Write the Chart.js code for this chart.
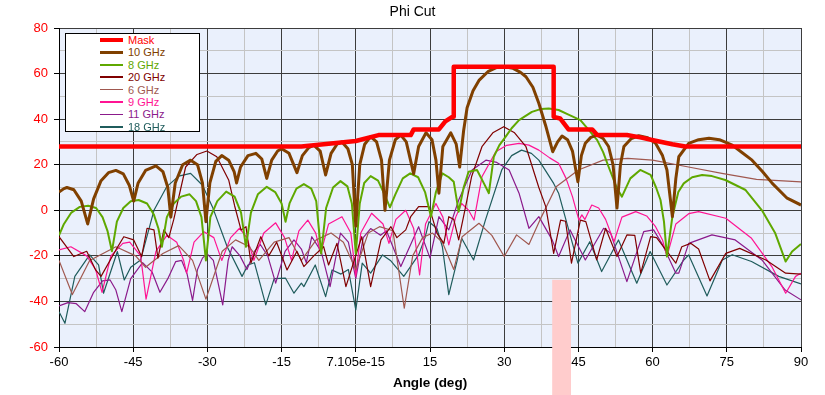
<!DOCTYPE html>
<html>
<head>
<meta charset="utf-8">
<title>Phi Cut</title>
<script src="https://cdn.jsdelivr.net/npm/chart.js@4.4.1/dist/chart.umd.min.js"></script>
<style>
  html, body { margin: 0; padding: 0; background: #fff; }
  #wrap { position: relative; width: 825px; height: 395px; }
  #legend {
    position: absolute; left: 65px; top: 33px; width: 135px; height: 99px;
    box-sizing: border-box; background: #fff; border: 1px solid #000;
    font: 11px 'Liberation Sans', Arial, sans-serif;
  }
  .row { position: absolute; left: 0; width: 100%; height: 12px; }
  .swatch { position: absolute; left: 34px; width: 23px; }
  .lbl { position: absolute; left: 62px; top: 0; line-height: 12px; white-space: nowrap; }
</style>
</head>
<body>
<div id="wrap">
  <canvas id="chart" width="825" height="395"></canvas>
  <div id="legend"></div>
</div>
<script>
// Phi Cut – antenna pattern, gain (dB) vs angle (deg)

const SERIES_NAMES = ['Mask', '10 GHz', '8 GHz', '20 GHz', '6 GHz', '9 GHz', '11 GHz', '18 GHz'];
const COLORS = ['#ff0000', '#804000', '#5fa800', '#800000', '#a0584f', '#ff1493', '#8b1a8b', '#1f5c5c'];
const WIDTHS = [4.5, 3, 2, 1.2, 1.2, 1.2, 1.2, 1.2];

const X_MAJOR_TICKS = [-60, -45, -30, -15, 0, 15, 30, 45, 60, 75, 90];
const X_TICK_LABELS = ['-60', '-45', '-30', '-15', '7.105e-15', '15', '30', '45', '60', '75', '90'];
const Y_MAJOR_TICKS = [-60, -40, -20, 0, 20, 40, 60, 80];

// pale marker band near 40-43.5 deg, hanging below -30 dB
const HIGHLIGHT_X = [39.7, 43.5];
const HIGHLIGHT_TOP = -30.5;

// [angle, dB]
const MASK = [[-60,28],[-11,28],[-5,29.3],[0,30.4],[4.6,33],[11.1,33],[11.7,35.5],[16.8,35.5],[18.1,39],
  [19.5,41],[19.8,41],[19.8,63],[40,63],[40,41],[41.3,40.3],[43,35.5],[47.8,35.5],[48.8,33],[54.8,33],
  [57.5,32],[60.6,30.5],[64,29],[66.6,28],[90,28]];

const GHZ10 = [[-60,8],[-59,9.5],[-58.4,10],[-57,9],[-55.5,4],[-54.2,-6],[-53,5],[-51.5,13],[-50,16.5],
  [-48.5,17.5],[-47,16],[-45.8,11],[-44.9,4],[-44,12],[-42.5,17.5],[-40.4,19.5],[-39,17],[-38,10],
  [-37.4,-3],[-36.5,12],[-35,20],[-33.4,22],[-32,20],[-31,12],[-30.3,-5],[-29.5,12],[-28.3,21.5],
  [-27.1,24],[-25.7,22],[-24.6,17],[-24.1,12],[-23.3,19],[-21.8,24],[-20.2,25],[-19,22.5],[-18,14],
  [-17,22],[-15.8,26],[-15,27],[-13.5,25],[-11.9,16.5],[-10.8,24],[-9.5,27.5],[-8.5,28.6],[-7.2,26],
  [-6.1,15.5],[-5,25],[-3.8,29],[-2.8,30],[-1.6,27],[-0.7,20],[0,-7],[0.8,20],[1.8,29],[3,32.3],
  [4.2,30],[5.2,22],[5.9,0],[6.8,22],[8,31],[9.1,33],[10.2,30],[11.7,16],[12.7,28],[14.2,34],
  [15.4,31],[16.2,22],[16.8,7.5],[17.6,28],[19.2,34],[20.3,29],[21,19],[21.8,35],[22.5,45],
  [23.7,52.5],[24.9,57],[26.8,61],[28.5,62.7],[30,63],[31.8,62.3],[33.3,60.5],[34.4,58.6],[35.8,54],
  [37,47],[38.4,37],[39.8,25.7],[40.8,30],[41.7,32.6],[42.8,31],[43.8,26],[44.9,12.5],[45.6,24],
  [46.4,29.4],[47.5,32],[48.8,33],[50,31.5],[51.1,28],[52,20],[52.8,1],[53.5,20],[54.2,28],
  [55.7,31.5],[57.2,32.7],[59,31.8],[60.6,29.4],[62,24],[62.9,17.7],[64,-2.8],[64.7,14],[65.3,23.5],
  [67.3,29.4],[69.3,31],[71.4,31.6],[73.5,31],[76.1,28.6],[78,25.5],[80.1,22],[82.2,17],[84.2,11.8],
  [87.2,5.3],[90,2.3]];

const GHZ8 = [[-60,-11],[-59,-6],[-57.5,-1],[-55.8,1.5],[-54.1,2],[-52.5,1],[-51.2,-3],[-50.2,-9],
  [-49.3,-18],[-48.3,-5],[-47,1],[-45.5,4],[-43.9,4.5],[-42.2,3],[-40.8,-2],[-39.9,-8],[-39.2,-16],
  [-38.2,-3],[-36.8,3],[-35.3,6],[-33.6,7],[-32.3,4],[-31.2,-3],[-30.3,-22],[-29.4,-3],[-28,4],
  [-26.2,8.2],[-24.5,6],[-23.2,-1],[-22.2,-16],[-21.2,-1],[-19.8,7],[-18,10.3],[-16.3,8],[-15,3],
  [-14.2,-5],[-13.4,3],[-12,9.5],[-10.5,11.5],[-9,9.5],[-8,4],[-7,-19],[-6,1],[-4.6,10],[-3.1,12.8],
  [-1.7,10.5],[-0.8,3],[0,-19],[0.8,3],[1.7,12],[3,15],[4.5,13],[5.8,7],[6.9,1.3],[8,7],[9.5,14],
  [11,16.2],[12.6,14.5],[14,8],[15.2,-2.8],[16.2,8],[17.5,16.2],[18.8,14.5],[19.8,12.5],[20.8,-0.6],
  [21.8,10],[22.8,16.9],[24.5,17.7],[25.9,11.8],[26.9,7.5],[27.9,23.5],[29,28.5],[30.3,32.3],
  [31.5,36],[33,39.6],[35.6,43.2],[37.5,44.5],[39,44.7],[41,44],[43,42],[45.4,39.6],[47,35.5],
  [48.8,30.8],[50,25.5],[51.1,19.1],[52.8,9.6],[53.8,6],[55.5,14],[57.5,17.7],[59.6,15.5],[60.7,10],
  [61.6,4.5],[62.3,-5],[62.9,-20.3],[64,-2.8],[65.2,8],[66.3,11.8],[68,14.5],[70,15.5],[72,15],
  [74.7,13.3],[78.8,8.9],[82.1,0],[84.8,-10.1],[86.9,-22.5],[88.2,-18.1],[90,-14.8]];

const GHZ20 = [[-60,-11.6],[-57,-20.3],[-54.4,-18],[-52.6,-26.2],[-51.5,-29],[-48.5,-17.4],
  [-46.9,-11.6],[-44.9,-13],[-43.3,-20.3],[-42.2,-7.9],[-40.8,-8.6],[-40,-21],[-38.8,-8.6],[-37.8,-12],
  [-36.8,-4],[-34.4,19],[-32.1,24.5],[-30.1,26],[-28.1,23.5],[-25.7,13.3],[-24.5,2],[-23.2,-8.6],
  [-22.2,-7.2],[-21.2,-23.2],[-19.2,-11.6],[-17.6,-20],[-16,-14],[-13.9,-26.2],[-11.9,-18],
  [-10.5,-24.7],[-8.5,-20],[-6.5,-16],[-5.5,-24],[-3.8,-14.5],[-2,-33.5],[1.2,-11.6],[3,-33.5],
  [5.1,-13],[7.1,-7.2],[8.3,-12],[10.1,-8.6],[11.1,-2.8],[12.7,1.6],[14.8,1.6],[16.4,-10],
  [17.8,-14.5],[18.8,-2.8],[19.8,-4],[20.8,-13],[22.2,1.6],[23.4,14.7],[25.5,27.9],[27.7,34],
  [29.9,36.7],[32.1,34],[34.4,27.9],[37,10],[38.4,1.6],[40,-18.9],[41.4,-4.3],[42.4,-4.8],
  [43.6,-23.2],[45.4,-4.3],[46.5,-5],[48.7,-21.8],[50.5,-7.9],[52.8,-20.3],[54.8,-10.8],[56.4,-11],
  [57.6,-27.6],[59.6,-11.6],[60.8,-12],[64.7,-23.2],[65.9,-16],[67.7,-14.5],[69.3,-17],[71.6,-31],
  [74.8,-18.9],[77.6,-16.7],[82.9,-21.8],[86.9,-27.6],[90,-28]];

const GHZ6 = [[-60,-22],[-57.3,-37],[-53.8,-22],[-48.5,-16],[-44.5,-20],[-42.5,-25],[-39,-19],
  [-35.8,-15.5],[-33,-22],[-30.3,-39],[-27,-18],[-24.3,-13],[-21.5,-16],[-19.6,-22],[-16.5,-14],
  [-13.5,-12],[-11,-22],[-8,-13],[-5,-10],[-2.5,-14],[0,-26],[2.5,-10],[4.8,-7.2],[7.5,-9],
  [9.8,-43],[11.5,-20],[13.5,-12],[15.5,-10],[17.5,-14],[19.8,-26],[21.5,-11.6],[24.9,-5.7],
  [27.5,-11],[30,-20.3],[32.5,-10.8],[35,-15],[37.5,-3],[40.5,10.3],[45,17.7],[50,22],[55,22.8],
  [60,22],[67,19.1],[74,16.2],[81,13.6],[90,12.5]];

const GHZ9 = [[-60,-17.4],[-57.6,-16],[-54.4,-20],[-52.6,-26],[-51.3,-36],[-49.5,-20],[-47.1,-14.5],
  [-45.7,-14],[-43.5,-20],[-42.4,-39],[-40.4,-18],[-38.2,-11],[-36.2,-14],[-34.8,-22],[-34.2,-27.6],
  [-32.7,-14],[-30.7,-9.4],[-28.7,-12],[-27.1,-22],[-25.3,-12],[-23.5,-7.9],[-22,-12],[-20.6,-22],
  [-18.6,-10],[-16.2,-5.5],[-14.4,-12],[-13,-22],[-11.5,-9],[-9.7,-4.3],[-8.1,-10],[-7.1,-19],
  [-5.5,-6],[-2.8,-2.8],[-1,-10],[0,-29],[1,-10],[3.2,-1.3],[5.5,-6],[6.7,-14.5],[8.1,-4],[10.1,0],
  [11.7,-8],[12.9,-28.4],[14.1,-6],[16.2,3],[17.6,-3],[18.8,-15.2],[20.2,-3],[21.4,3],[22.8,0],
  [23.9,-4.3],[25.5,14.7],[28.3,25.7],[30.5,28.5],[33,29.4],[35,28.6],[37,26.4],[39.2,23],[41,20.6],
  [42.5,14],[43.8,6],[45.1,-4.3],[45.7,-2],[46.3,-4],[47.7,2.3],[49.1,1],[50.5,-4],[52.2,-13.8],
  [53.8,-3],[56.6,-0.6],[58.8,-2.5],[60.6,-7.2],[62,-13],[62.9,-20.3],[64.7,-6],[67.3,-1.5],
  [69.3,-0.6],[74.8,-3.5],[80,-12.3],[84.1,-24.7],[86.9,-36.4],[88.9,-29],[90,-27.6]];

const GHZ11 = [[-60,-42],[-58.2,-40.5],[-56.5,-41],[-54.8,-44.5],[-53,-36],[-51.2,-31],[-49.7,-30.5],
  [-48.5,-35],[-47.3,-44.5],[-45.5,-30],[-43.1,-23],[-41.2,-27],[-39.6,-36],[-38,-30],[-36.4,-22.5],
  [-35.2,-22],[-34.1,-28],[-33,-39.5],[-32,-26],[-31,-21],[-30.1,-19],[-28.8,-22],[-26.9,-41.5],
  [-25.8,-22],[-25,-16],[-23.4,-20],[-22,-26],[-20.5,-18],[-19.3,-15],[-17.8,-20],[-16.2,-32],
  [-14.3,-18],[-12.5,-13],[-11,-17],[-10,-23],[-8.9,-11.6],[-7,-18],[-5.2,-33.5],[-3.1,-10],
  [-1.5,-14],[0,-30],[1.5,-12],[3,-8],[5,-11],[6.2,-9],[9.1,-24.7],[12.7,-7.2],[15,-21],
  [16.8,-2.8],[18.8,-8.6],[20.8,4.5],[23.5,17.7],[26.3,22],[28.5,21],[31,17.7],[33,7.5],[35,-7.9],
  [37,-2.8],[39.7,-13],[41,-20.3],[43.3,-8.6],[46.4,-21.8],[50.1,-7.9],[51.5,-10],[54.8,-31.3],
  [58.2,-9.4],[60.2,-8.6],[62,-15],[64.7,-27.6],[65.3,-27.6],[67.3,-14.5],[72,-10.8],[76.7,-13],
  [82.1,-21.8],[86.8,-35],[90,-39.3]];

const GHZ18 = [[-60,-44.5],[-58.8,-49.6],[-56.8,-29],[-53.8,-19.6],[-52,-24],[-51,-36.4],[-48.2,-18.1],
  [-46.8,-30.6],[-45.5,-25],[-43.5,-21.8],[-40.8,0],[-38.2,10.4],[-35.8,15],[-33.4,16.2],[-31,11],
  [-29,1.6],[-26,-16],[-23,-29],[-21.8,-24],[-20.5,-23],[-18.2,-41.5],[-16.5,-30],[-14.2,-29.8],
  [-12.5,-36.4],[-11,-32],[-10.5,-33.5],[-8.2,-24],[-6.1,-37.9],[-4.8,-26.2],[-3,-28],[-1.5,-26],
  [0,-43.7],[1.3,-23.2],[3,-27.6],[5.4,-19.6],[7,-22],[9.7,-29],[12.7,-19.6],[14,-12],[14.8,-5],
  [16.4,-8],[17.5,-16],[18.8,-37],[20.5,-22],[21.4,-12.3],[23.8,-21.8],[26.2,-4.3],[29.5,17.7],
  [31.5,24],[33.5,26.4],[35.5,25],[37,22],[40,11.8],[41,7.5],[42.5,-4.3],[44.9,-23.2],[47.3,-13.8],
  [49.7,-26.9],[53.1,-13],[56.8,-32],[59.5,-18.1],[62.9,-32.8],[66.3,-21.8],[67.3,-19.6],[71,-37.6],
  [74.1,-21.8],[76.1,-19.5],[80,-22.5],[85.5,-29],[90,-32.3]];

const SERIES = [MASK, GHZ10, GHZ8, GHZ20, GHZ6, GHZ9, GHZ11, GHZ18];

// --- Plugins ---

const plotBackground = {
  id: 'plotBackground',
  beforeDraw(chart) {
    const { ctx, chartArea: a } = chart;
    ctx.save();
    ctx.fillStyle = '#eaf0fc';
    ctx.fillRect(a.left, a.top, a.right - a.left, a.bottom - a.top);
    ctx.restore();
  }
};

const highlightBand = {
  id: 'highlightBand',
  afterDraw(chart) {
    const { ctx, scales } = chart;
    const x0 = scales.x.getPixelForValue(HIGHLIGHT_X[0]);
    const x1 = scales.x.getPixelForValue(HIGHLIGHT_X[1]);
    const y0 = scales.y.getPixelForValue(HIGHLIGHT_TOP);
    ctx.save();
    ctx.fillStyle = '#ffcccc';
    ctx.fillRect(x0, y0, x1 - x0, chart.height - y0);
    ctx.restore();
  }
};

// --- Chart ---

const FONT = "'Liberation Sans', Arial, sans-serif";

function isMajorX(v) { return X_MAJOR_TICKS.some(t => Math.abs(t - v) < 1e-6); }
function isMajorY(v) { return Y_MAJOR_TICKS.some(t => Math.abs(t - v) < 1e-6); }

const datasets = SERIES.map((pts, i) => ({
  label: SERIES_NAMES[i],
  data: pts.map(p => ({ x: p[0], y: p[1] })),
  borderColor: COLORS[i],
  backgroundColor: COLORS[i],
  borderWidth: WIDTHS[i],
  borderJoinStyle: 'round',
  pointRadius: 0,
  tension: 0,
  fill: false,
}));

new Chart(document.getElementById('chart'), {
  type: 'line',
  data: { datasets },
  options: {
    responsive: false,
    animation: false,
    devicePixelRatio: 1,
    layout: { padding: 0 },
    plugins: {
      legend: { display: false },
      tooltip: { enabled: false },
      title: {
        display: true,
        text: 'Phi Cut',
        color: '#000',
        font: { family: FONT, size: 14, weight: 'normal' },
        padding: { top: 4, bottom: 7.2 },
      },
    },
    scales: {
      x: {
        type: 'linear',
        min: -60,
        max: 90,
        afterFit: s => { s.height = 48; },
        ticks: {
          stepSize: 7.5,
          autoSkip: false,
          maxRotation: 0,
          padding: 3,
          color: '#000',
          font: { family: FONT, size: 13 },
          callback: v => {
            const k = X_MAJOR_TICKS.findIndex(t => Math.abs(t - v) < 1e-6);
            return k >= 0 ? X_TICK_LABELS[k] : '';
          },
        },
        grid: {
          color: c => (c.tick && isMajorX(c.tick.value)) ? '#3c3c3c' : '#c4c4c4',
          tickColor: c => (c.tick && isMajorX(c.tick.value)) ? '#000' : 'rgba(0,0,0,0)',
          tickLength: 5,
        },
        border: { color: '#000' },
        title: {
          display: true,
          text: 'Angle (deg)',
          color: '#000',
          font: { family: FONT, size: 13.5, weight: 'bold' },
          padding: { top: 0, bottom: 4 },
        },
      },
      y: {
        min: -60,
        max: 80,
        afterFit: s => { s.width = 59; },
        ticks: {
          stepSize: 10,
          autoSkip: false,
          padding: 6,
          color: '#ff0000',
          font: { family: FONT, size: 13 },
          callback: v => isMajorY(v) ? String(v) : '',
        },
        grid: {
          color: c => (c.tick && isMajorY(c.tick.value)) ? '#3c3c3c' : '#c4c4c4',
          tickColor: c => (c.tick && isMajorY(c.tick.value)) ? '#000' : 'rgba(0,0,0,0)',
          tickLength: 5,
        },
        border: { color: '#000' },
      },
      // empty strip on the right so the plot ends at 90 deg where the reference does
      yRight: {
        position: 'right',
        min: -60,
        max: 80,
        afterFit: s => { s.width = 24; },
        ticks: { display: false },
        grid: { display: false, drawTicks: false },
        border: { display: false },
      },
    },
  },
  plugins: [plotBackground, highlightBand],
});

// --- Legend (HTML overlay) ---

const legend = document.getElementById('legend');
SERIES_NAMES.forEach((name, i) => {
  const row = document.createElement('div');
  row.className = 'row';
  row.style.top = (12.4 * i) + 'px';
  const sw = document.createElement('div');
  sw.className = 'swatch';
  const h = Math.max(1.5, WIDTHS[i]);
  sw.style.height = h + 'px';
  sw.style.top = (6 - h / 2) + 'px';
  sw.style.background = COLORS[i];
  const lbl = document.createElement('span');
  lbl.className = 'lbl';
  lbl.style.color = COLORS[i];
  lbl.textContent = name;
  row.appendChild(sw);
  row.appendChild(lbl);
  legend.appendChild(row);
});
</script>
</body>
</html>
